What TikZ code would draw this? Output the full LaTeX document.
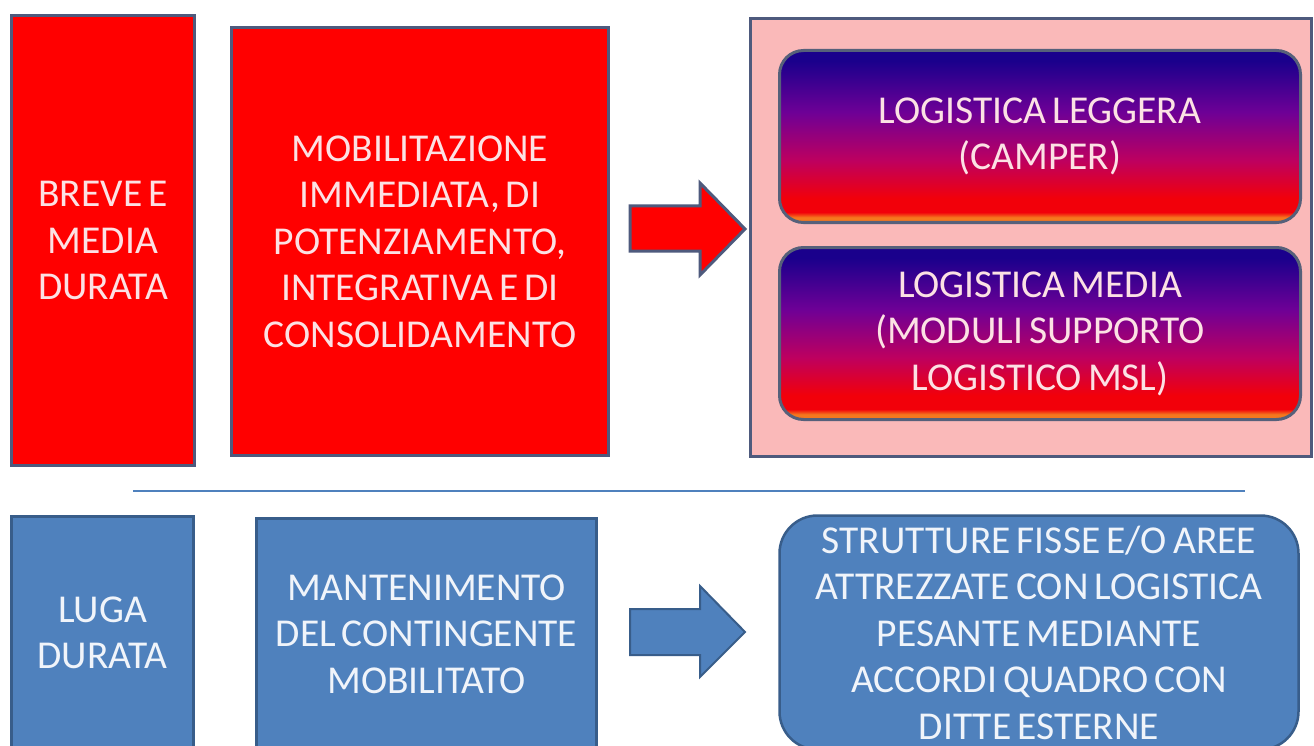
\documentclass[tikz,border=0pt]{standalone}
\usepackage{fontspec}
\setmainfont{Carlito}
\definecolor{slate}{RGB}{78,90,125}
\definecolor{rfill}{RGB}{255,0,0}
\definecolor{pinkbg}{RGB}{250,185,185}
\definecolor{bfill}{RGB}{79,129,189}
\definecolor{bline}{RGB}{56,93,138}
\definecolor{gline}{RGB}{86,96,122}
\definecolor{txtr}{RGB}{252,225,228}
\definecolor{txtb}{RGB}{240,244,250}
\definecolor{gnavy}{RGB}{26,0,140}
\definecolor{gpurp}{RGB}{110,0,150}
\definecolor{gmag}{RGB}{190,0,95}
\definecolor{gred}{RGB}{242,0,10}
\definecolor{gorange}{RGB}{245,120,30}
\pgfdeclareverticalshading{lgrad}{100bp}{color(0bp)=(gorange); color(25bp)=(gorange); color(26.5bp)=(gorange); color(28bp)=(gred); color(32bp)=(gred); color(43bp)=(gmag); color(57bp)=(gpurp); color(72bp)=(gnavy); color(100bp)=(gnavy)}
\newcommand{\boxfont}{\fontsize{39.5}{46.5}\selectfont}
\tikzset{
  txt/.style={font=\boxfont, align=flush center, execute at begin node={\spaceskip=6pt\relax}},
  redbox/.style={txt, draw=slate, line width=3pt, fill=rfill, text=txtr, inner sep=0pt},
  pinkbox/.style={draw=slate, line width=3pt, fill=pinkbg, inner sep=0pt},
  gradbox/.style={txt, draw=gline, line width=3pt, shading=lgrad, rounded corners=24pt, text=txtr, inner sep=0pt},
  bluebox/.style={txt, draw=bline, line width=2.5pt, fill=bfill, text=txtb, inner sep=0pt},
  redarrow/.style={draw=slate, line width=3pt, fill=rfill, line join=miter},
  bluearrow/.style={draw=bline, line width=2pt, fill=bfill, line join=miter},
  sepline/.style={draw=bfill, line width=1.5pt}
}
\begin{document}
\begin{tikzpicture}[x=1pt,y=-1pt]
\useasboundingbox (0,0) rectangle (1314,746);
\clip (0,0) rectangle (1314,746);
\fill[white] (0,0) rectangle (1314,746);

% top row
\node[redbox, minimum width=183pt, minimum height=450pt, text width=180pt] (b1) at (103,240.5) {BREVE E\\MEDIA\\DURATA};
\node[redbox, minimum width=377pt, minimum height=428pt, text width=372pt] (b2) at (420,241.5) {MOBILITAZIONE\\IMMEDIATA, DI\\POTENZIAMENTO,\\INTEGRATIVA E DI\\CONSOLIDAMENTO};
\node[pinkbox, minimum width=561pt, minimum height=438pt] (pk) at (1031,237.5) {};
\node[gradbox, minimum width=521pt, minimum height=172pt, text width=510pt] (g1) at (1040,136.5) {LOGISTICA LEGGERA\\(CAMPER)};
\node[gradbox, minimum width=521pt, minimum height=172pt, text width=510pt] (g2) at (1040,333.5) {LOGISTICA MEDIA\\(MODULI SUPPORTO\\LOGISTICO MSL)};

% red block arrow
\coordinate (ra) at (630,206);
\draw[redarrow] (ra) -- (700,206) -- (700,183) -- (745,229) -- (700,275) -- (700,251) -- (630,251) -- cycle;

% separator
\coordinate (sl) at (133,491);
\coordinate (sr) at (1245,491);
\draw[sepline] (sl) -- (sr);

% bottom row
\node[bluebox, minimum width=182pt, minimum height=233pt, text width=180pt] (c1) at (102.5,633) {LUGA\\DURATA};
\node[bluebox, minimum width=340pt, minimum height=231pt, text width=338pt] (c2) at (426.5,634) {MANTENIMENTO\\DEL CONTINGENTE\\MOBILITATO};
\node[bluebox, rounded corners=38pt, minimum width=519pt, minimum height=234pt, text width=515pt] (c3) at (1039,632.5) {STRUTTURE FISSE E/O AREE\\ATTREZZATE CON LOGISTICA\\PESANTE MEDIANTE\\ACCORDI QUADRO CON\\DITTE ESTERNE};

% blue block arrow
\coordinate (ba) at (630,609);
\draw[bluearrow] (ba) -- (700,609) -- (700,586) -- (745,632) -- (700,677) -- (700,655) -- (630,655) -- cycle;
\end{tikzpicture}
\end{document}
